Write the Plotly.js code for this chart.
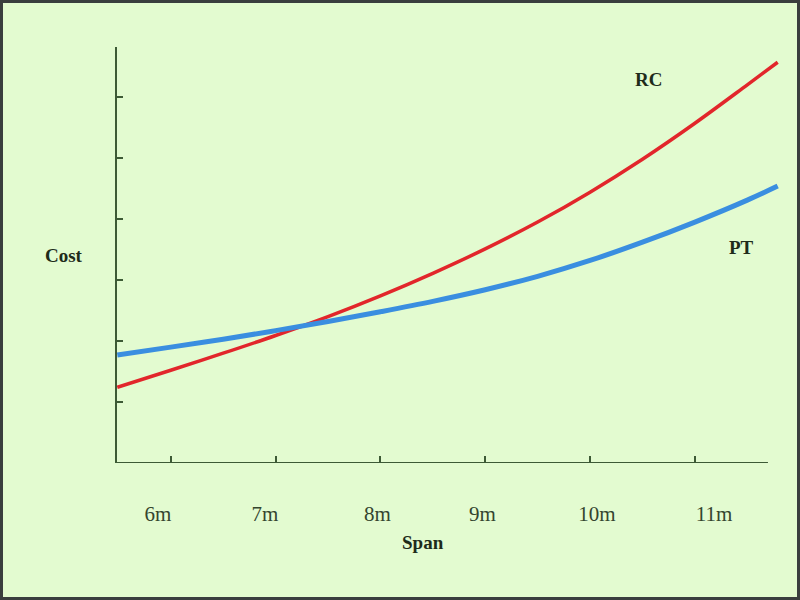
<!DOCTYPE html>
<html>
<head>
<meta charset="utf-8">
<script src="https://cdn.plot.ly/plotly-3.0.1.min.js"></script>
<style>
  html, body { margin: 0; padding: 0; background: #3a3e3e; }
  #wrap { width: 800px; height: 600px; box-sizing: border-box; border: 3px solid #3a3e3e; background: #e3fbd0; }
  #chart { width: 794px; height: 594px; }
</style>
</head>
<body>
<div id="wrap"><div id="chart"></div></div>
<script>
// Span (m) sample points along the curves
const span = [5.49, 6.0, 6.5, 7.0, 7.5, 8.0, 8.5, 9.0, 9.5, 10.0, 10.5, 11.0, 11.5, 11.79];
// Relative cost values (arbitrary units)
const rcCost = [1.24, 1.52, 1.80, 2.09, 2.40, 2.74, 3.11, 3.51, 3.95, 4.44, 4.98, 5.57, 6.20, 6.57];
const ptCost = [1.77, 1.90, 2.03, 2.17, 2.32, 2.48, 2.65, 2.84, 3.06, 3.32, 3.62, 3.95, 4.31, 4.54];
// Axis ticks
const spanTicks = [6, 7, 8, 9, 10, 11];
const spanTickLabels = ['6m', '7m', '8m', '9m', '10m', '11m'];
const costTicks = [1, 2, 3, 4, 5, 6];
// where the hand-placed tick labels sit along the span scale
const spanLabelAt = [5.878, 6.899, 7.972, 8.974, 10.066, 11.182];

const axisColor = '#3d5a35';
const xRange = [5.487, 11.812];
const yRange = [0, 6.82];
const serif = 'Liberation Serif, Times New Roman, serif';

const traces = [
  { x: span, y: rcCost, type: 'scatter', mode: 'lines', name: 'RC',
    line: { color: '#e2262b', width: 3.5, shape: 'spline', smoothing: 1 }, hoverinfo: 'skip' },
  { x: span, y: ptCost, type: 'scatter', mode: 'lines', name: 'PT',
    line: { color: '#3a8ee0', width: 5, shape: 'spline', smoothing: 1 }, hoverinfo: 'skip' },
  { x: xRange, y: [0, 0], xaxis: 'x2', type: 'scatter', mode: 'lines',
    line: { width: 0, color: 'rgba(0,0,0,0)' }, hoverinfo: 'skip', showlegend: false }
];

const layout = {
  width: 794, height: 594,
  margin: { l: 114, r: 17, t: 44, b: 134 },
  paper_bgcolor: '#e3fbd0',
  plot_bgcolor: '#e3fbd0',
  showlegend: false,
  xaxis: {
    range: xRange, showgrid: false, zeroline: false, showline: false,
    tickvals: spanTicks, showticklabels: false,
    ticks: 'inside', ticklen: 7, tickwidth: 2, tickcolor: axisColor
  },
  xaxis2: {
    range: xRange, overlaying: 'x', anchor: 'y', side: 'bottom',
    showgrid: false, zeroline: false, showline: false, ticks: '',
    tickvals: spanLabelAt, ticktext: spanTickLabels,
    ticklabelstandoff: 36,
    tickfont: { family: serif, size: 21, color: '#34452e' }
  },
  yaxis: {
    range: yRange, showgrid: false, zeroline: false,
    showline: true, linecolor: axisColor, linewidth: 2,
    tickvals: costTicks, showticklabels: false,
    ticks: 'inside', ticklen: 6, tickwidth: 2, tickcolor: axisColor
  },
  shapes: [
    { type: 'line', xref: 'x', yref: 'y', x0: xRange[0], x1: 11.697, y0: 0, y1: 0,
      line: { color: axisColor, width: 2 } }
  ],
  annotations: [
    { text: '<b>Cost</b>', xref: 'paper', yref: 'paper', x: -0.1116, y: 0.5,
      showarrow: false, font: { family: serif, size: 19, color: '#1e2b1a' } },
    { text: '<b>Span</b>', xref: 'paper', yref: 'paper', x: 0.4615, y: -0.2212,
      showarrow: false, font: { family: serif, size: 19, color: '#1e2b1a' } },
    { text: '<b>RC</b>', xref: 'x', yref: 'y', x: 10.553, y: 6.295,
      showarrow: false, font: { family: serif, size: 19, color: '#1e2b1a' } },
    { text: '<b>PT</b>', xref: 'x', yref: 'y', x: 11.449, y: 3.525,
      showarrow: false, font: { family: serif, size: 19, color: '#1e2b1a' } }
  ]
};

Plotly.newPlot('chart', traces, layout, { displayModeBar: false, staticPlot: true });
</script>
</body>
</html>
